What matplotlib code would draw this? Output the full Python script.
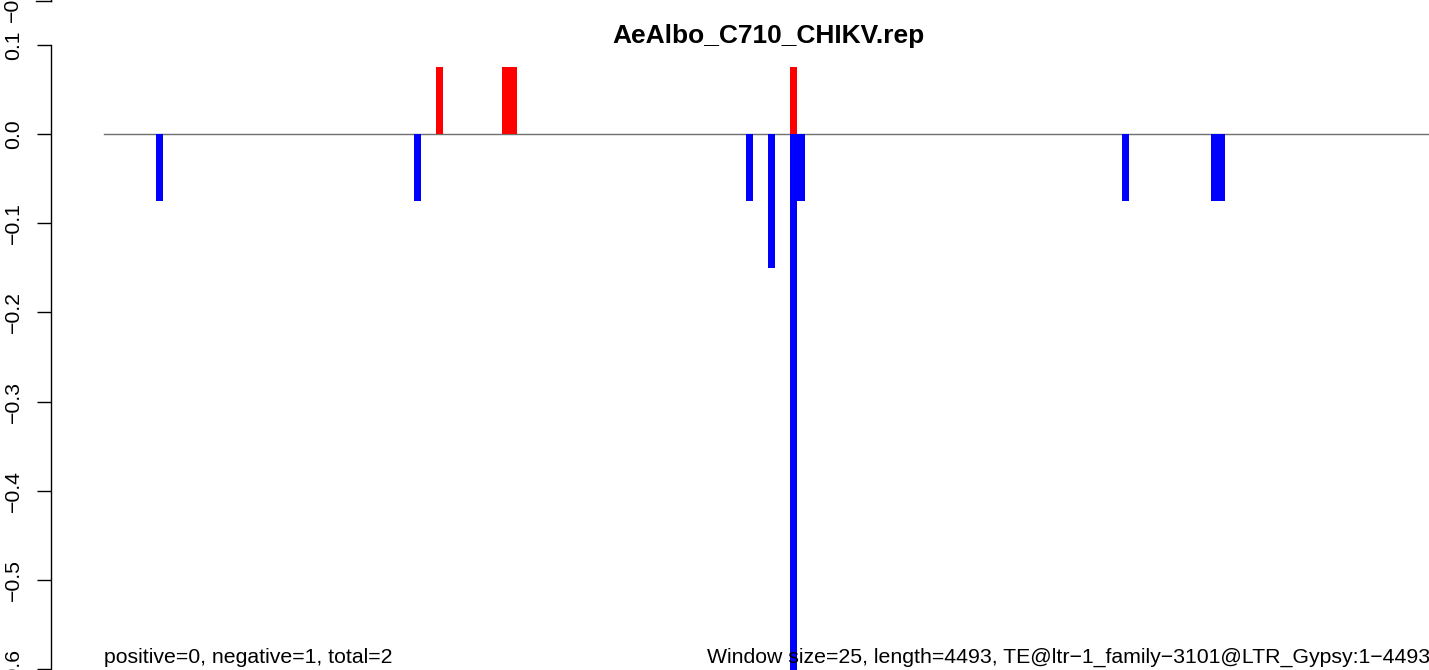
#!/usr/bin/env python3
"""Window count bar plot for AeAlbo_C710_CHIKV.rep (cropped panel)."""
import matplotlib

matplotlib.use("Agg")
import matplotlib.pyplot as plt
from matplotlib.lines import Line2D

TITLE = "AeAlbo_C710_CHIKV.rep"
WINDOW = 25
LENGTH = 4493

# window start positions (bp) and scaled counts
POS_STARTS = [1125, 1350, 1375, 2325]
POS_VALUES = [0.075, 0.075, 0.075, 0.075]
NEG_STARTS = [175, 1050, 2175, 2250, 2325, 2350, 3450, 3750, 3775]
NEG_VALUES = [-0.075, -0.075, -0.075, -0.15, -0.675, -0.075, -0.075, -0.075, -0.075]

Y_TICKS = [0.1, 0.0, -0.1, -0.2, -0.3, -0.4, -0.5, -0.6]
Y_TICKLABELS = ["0.1", "0.0", "\u22120.1", "\u22120.2", "\u22120.3",
                "\u22120.4", "\u22120.5", "\u22120.6"]

LEFT_NOTE = "positive=0, negative=1, total=2"
RIGHT_NOTE = ("Window size=25, length=4493, "
              "TE@ltr\u22121_family\u22123101@LTR_Gypsy:1\u22124493")

W, H = 1429, 670
plt.rcParams["font.family"] = ["Liberation Sans", "DejaVu Sans"]

fig = plt.figure(figsize=(W / 100, H / 100), dpi=100)

# plot region: R style 4% padding on x, axes runs past the right edge (cropped)
pad = 0.04 * LENGTH
xlim = (-pad, LENGTH + pad)
scale = 0.2951  # px per bp
left_px = 104 - pad * scale
width_px = (xlim[1] - xlim[0]) * scale
ax = fig.add_axes([left_px / W, 0, width_px / W, 1])
ax.set_xlim(*xlim)
px_per_unit = 892.0
ax.set_ylim(-(H - 134) / px_per_unit, 134 / px_per_unit)

ax.plot([0, LENGTH], [0, 0], color="#707070", linewidth=1.0, zorder=1)
ax.bar(POS_STARTS, POS_VALUES, width=WINDOW, align="edge", color="#ff0000",
       linewidth=0, zorder=2)
ax.bar(NEG_STARTS, NEG_VALUES, width=WINDOW, align="edge", color="#0000ff",
       linewidth=0, zorder=2)

for side in ["top", "right", "bottom"]:
    ax.spines[side].set_visible(False)
ax.spines["left"].set_bounds(-0.7, 0.1)
ax.spines["left"].set_linewidth(1.0)
ax.set_xticks([])
ax.set_yticks(Y_TICKS)
ax.set_yticklabels(Y_TICKLABELS, rotation=90, fontsize=15.3)
ax.tick_params(axis="y", length=10, width=1.0, pad=17)
for lbl in ax.get_yticklabels():
    lbl.set_ha("center")
    lbl.set_va("center")

fig.text(768 / W, 1 - 43 / H, TITLE, ha="center", va="baseline",
         fontsize=19, fontweight="bold")

y_note = -(663 - 134) / px_per_unit
ax.text(0, y_note, LEFT_NOTE, ha="left", va="baseline", fontsize=15.3)
ax.text(LENGTH, y_note, RIGHT_NOTE, ha="right", va="baseline", fontsize=15.3)

# bottom edge of the panel above (its -0.6 tick), cut by the crop
fig.add_artist(Line2D([36 / W, 50.5 / W], [1 - 1 / H, 1 - 1 / H],
                      color="black", linewidth=1.0))
fig.add_artist(Line2D([50.5 / W, 50.5 / W], [1 - 1 / H, 1.0],
                      color="black", linewidth=1.0))
fig.text(12.5 / W, 1 - 1 / H, "\u22120.6", rotation=90, ha="center",
         va="center", fontsize=15.3)

fig.savefig("out.png", dpi=100)
